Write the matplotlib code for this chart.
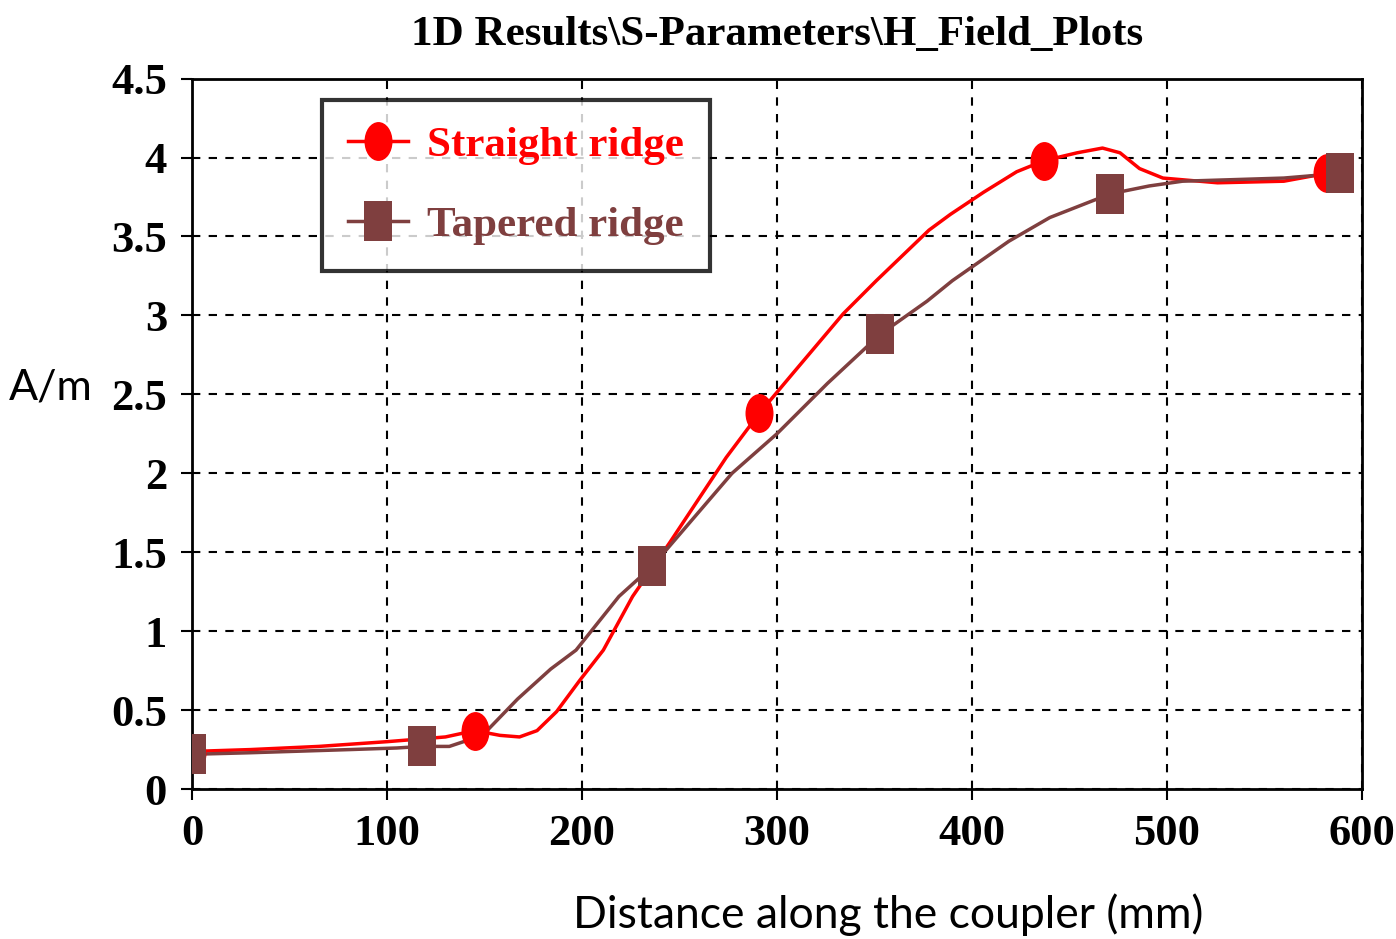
import matplotlib.pyplot as plt
from matplotlib.path import Path
from matplotlib.transforms import Affine2D

# curve traces (distance in mm, field in A/m)
straight_x = [0, 5, 30, 65, 100, 130, 145, 158, 168, 177, 187, 199, 211, 226, 245, 274, 291,
              308, 334, 351, 378, 389, 406, 423, 437, 454, 467, 476, 486, 498, 526, 560, 582]
straight_y = [0.23, 0.24, 0.25, 0.27, 0.30, 0.33, 0.37, 0.34, 0.33, 0.37, 0.49, 0.69, 0.88, 1.22,
              1.56, 2.10, 2.38, 2.63, 3.01, 3.22, 3.54, 3.64, 3.78, 3.91, 3.98, 4.03, 4.06, 4.03,
              3.93, 3.87, 3.84, 3.85, 3.90]
straight_mx = [0, 145, 291, 437, 582]
straight_my = [0.23, 0.37, 2.38, 3.98, 3.90]

tapered_x = [0, 30, 81, 105, 118, 132, 149, 167, 184, 197, 219, 236, 277, 300, 326, 353, 377,
             390, 419, 440, 471, 491, 508, 560, 589]
tapered_y = [0.22, 0.23, 0.25, 0.26, 0.27, 0.27, 0.34, 0.57, 0.76, 0.88, 1.22, 1.41, 2.00, 2.25,
             2.57, 2.88, 3.09, 3.22, 3.47, 3.62, 3.77, 3.82, 3.85, 3.87, 3.90]
tapered_mx = [0, 118, 236, 353, 471, 589]
tapered_my = [0.22, 0.27, 1.41, 2.88, 3.77, 3.90]

x_ticks = [0, 100, 200, 300, 400, 500, 600]
y_ticks = [0, 0.5, 1, 1.5, 2, 2.5, 3, 3.5, 4, 4.5]
y_labels = ["0", "0.5", "1", "1.5", "2", "2.5", "3", "3.5", "4", "4.5"]

red = "#ff0000"
brown = "#7f3f3f"
serif = "Liberation Serif"

# tall ellipse and tall rectangle markers, like the original plot
ellipse = Path.unit_circle().transformed(Affine2D().scale(0.72, 1.0))
rect = Path.unit_rectangle().transformed(Affine2D().translate(-0.5, -0.5).scale(0.68, 1.0))


def main():
    fig = plt.figure(figsize=(13.96, 9.39), dpi=100)
    ax = fig.add_axes([0.1375, 0.1597, 0.838, 0.7566])

    ax.plot(straight_x, straight_y, color=red, lw=2.5, zorder=3)
    ax.plot(straight_mx, straight_my, ls="none", marker=ellipse, ms=28, color=red,
            markeredgewidth=0, zorder=4)
    ax.plot(tapered_x, tapered_y, color=brown, lw=2.5, zorder=3)
    ax.plot(tapered_mx, tapered_my, ls="none", marker=rect, ms=29, color=brown,
            markeredgewidth=0, zorder=5)

    # legend proxies
    h1, = ax.plot([], [], color=red, lw=2.5, marker=ellipse, ms=28, markeredgewidth=0)
    h2, = ax.plot([], [], color=brown, lw=2.5, marker=rect, ms=29, markeredgewidth=0)
    leg = ax.legend([h1, h2], ["Straight ridge", "Tapered ridge"],
                    loc="upper left", bbox_to_anchor=(0.111, 0.97),
                    prop={"family": serif, "weight": "bold", "size": 31},
                    frameon=True, fancybox=False, handlelength=1.4,
                    handletextpad=0.45, borderpad=0.6,
                    labelspacing=0.95, borderaxespad=0)
    leg.get_frame().set_edgecolor("black")
    leg.get_frame().set_linewidth(3)
    for txt, c in zip(leg.get_texts(), [red, brown]):
        txt.set_color(c)

    ax.set_xlim(0, 600)
    ax.set_ylim(0, 4.5)
    ax.set_xticks(x_ticks)
    ax.set_yticks(y_ticks)
    ax.set_yticklabels(y_labels)
    for lab in ax.get_xticklabels() + ax.get_yticklabels():
        lab.set_family(serif)
        lab.set_fontsize(32)
        lab.set_fontweight("bold")
    ax.tick_params(direction="out", length=8, width=1.5, color="black", pad=10)
    ax.grid(True, color="black", ls=(0, (4, 4)), lw=1.5)
    for s in ax.spines.values():
        s.set_linewidth(2)

    ax.set_title(r"1D Results\S-Parameters\H_Field_Plots", family=serif,
                 fontsize=31, fontweight="bold", pad=24)
    fig.text(0.636, 0.026, "Distance along the coupler (mm)", family="Lato",
             fontsize=32, ha="center", va="center")
    fig.text(0.0365, 0.587, "A/m", family="Lato", fontsize=31, ha="center", va="center")

    fig.savefig("out.png", dpi=100)


if __name__ == '__main__':
    main()
